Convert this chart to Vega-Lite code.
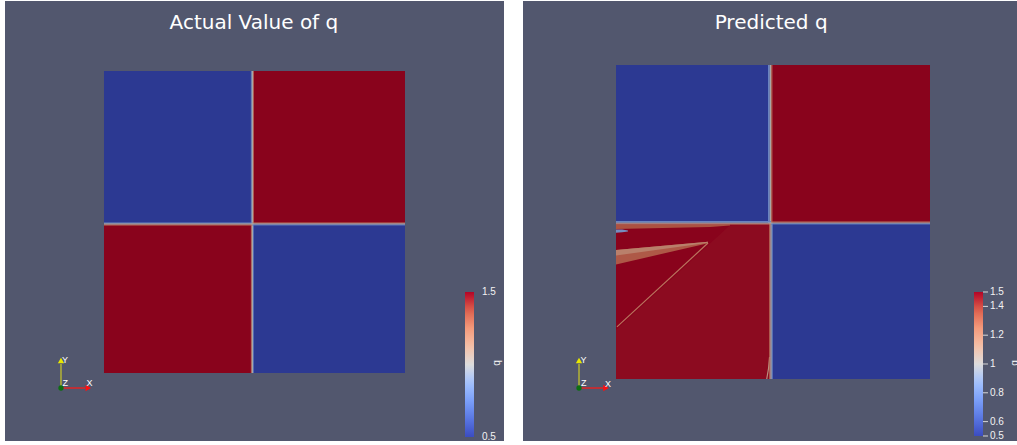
{
  "$schema": "https://vega.github.io/schema/vega-lite/v6.json",
  "padding": {"left": 5, "top": 1, "right": 0, "bottom": 4},
  "background": "white",
  "spacing": 19,
  "config": {"view": {"stroke": null, "fill": "#52576e"}},
  "resolve": {"scale": {"color": "independent", "x": "independent", "y": "independent"}, "legend": {"color": "independent"}},
  "hconcat": [
    {
      "width": 499,
      "height": 440,
      "encoding": {
        "x": {"field": "x", "type": "quantitative", "scale": {"domain": [-0.3289, 1.3289], "nice": false, "zero": false}, "axis": null},
        "y": {"field": "y", "type": "quantitative", "scale": {"domain": [-0.22517, 1.23179], "nice": false, "zero": false}, "axis": null, "stack": null}
      },
      "layer": [
        {
          "data": {"values": [
            {"x": 0, "x2": 0.493, "y": 0.493, "y2": 1, "q": 0.5},
            {"x": 0.493, "x2": 1, "y": 0.493, "y2": 1, "q": 1.5},
            {"x": 0, "x2": 0.493, "y": 0, "y2": 0.493, "q": 1.5},
            {"x": 0.493, "x2": 1, "y": 0, "y2": 0.493, "q": 0.5},
            {"x": 0.488, "x2": 0.4905, "y": 0.493, "y2": 1, "q": 0.8},
            {"x": 0.4905, "x2": 0.4955, "y": 0.493, "y2": 1, "q": 1.0},
            {"x": 0.4955, "x2": 0.498, "y": 0.493, "y2": 1, "q": 1.25},
            {"x": 0.488, "x2": 0.4905, "y": 0, "y2": 0.493, "q": 1.25},
            {"x": 0.4905, "x2": 0.4955, "y": 0, "y2": 0.493, "q": 1.0},
            {"x": 0.4955, "x2": 0.498, "y": 0, "y2": 0.493, "q": 0.75},
            {"x": 0, "x2": 0.493, "y": 0.4955, "y2": 0.498, "q": 0.8},
            {"x": 0, "x2": 0.493, "y": 0.4905, "y2": 0.4955, "q": 1.0},
            {"x": 0, "x2": 0.493, "y": 0.488, "y2": 0.4905, "q": 1.25},
            {"x": 0.493, "x2": 1, "y": 0.4955, "y2": 0.498, "q": 1.25},
            {"x": 0.493, "x2": 1, "y": 0.4905, "y2": 0.4955, "q": 1.0},
            {"x": 0.493, "x2": 1, "y": 0.488, "y2": 0.4905, "q": 0.75}
          ]},
          "mark": {"type": "rect"},
          "encoding": {
            "x2": {"field": "x2"},
            "y2": {"field": "y2"},
            "color": {
              "field": "q", "type": "quantitative",
              "scale": {"domain": [0.5, 0.625, 0.75, 0.875, 1, 1.125, 1.25, 1.375, 1.5], "range": ["#3b4cc0", "#5977e3", "#7b9ff9", "#a3c2fe", "#dddcdc", "#f5c0a7", "#f49a7b", "#dd604d", "#b40426"], "interpolate": "rgb"},
              "legend": {"type": "gradient", "orient": "none", "legendX": 460, "legendY": 291, "direction": "vertical", "gradientLength": 145, "gradientThickness": 9, "gradientStrokeWidth": 0, "title": null, "values": [1.4999, 0.5001], "format": ".2~f", "labelColor": "#f2f2f2", "labelFont": "Liberation Sans", "labelFontSize": 10, "labelOffset": 8, "labelOverlap": false, "padding": 0}
            }
          }
        },
        {
          "data": {"values": [{"x": 0, "x2": 1, "y": 0, "y2": 1}]},
          "mark": {"type": "rect", "fill": "black", "opacity": 0.24},
          "encoding": {"x2": {"field": "x2"}, "y2": {"field": "y2"}}
        },
        {
          "data": {"values": [{"x": -0.1429, "y": -0.0497, "x2": -0.1429, "y2": 0.0298}]},
          "mark": {"type": "rule", "color": "#b4b434", "strokeWidth": 1.5},
          "encoding": {"x2": {"field": "x2"}, "y2": {"field": "y2"}}
        },
        {
          "data": {"values": [{"x": -0.1429, "y": -0.0497, "x2": -0.0631, "y2": -0.0497}]},
          "mark": {"type": "rule", "color": "#e02424", "strokeWidth": 1.5},
          "encoding": {"x2": {"field": "x2"}, "y2": {"field": "y2"}}
        },
        {
          "data": {"values": [{"x": -0.1429, "y": 0.0414}]},
          "mark": {"type": "point", "shape": "triangle-up", "filled": true, "color": "#e8e800", "size": 40, "opacity": 1}
        },
        {
          "data": {"values": [{"x": -0.0522, "y": -0.0497}]},
          "mark": {"type": "point", "shape": "triangle-right", "filled": true, "color": "#ff1010", "size": 40, "opacity": 1}
        },
        {
          "data": {"values": [{"x": -0.1429, "y": -0.0497}]},
          "mark": {"type": "point", "shape": "circle", "filled": true, "color": "#0d6e12", "size": 28, "opacity": 1}
        },
        {
          "data": {"values": [
            {"label": "Y", "x": -0.1395, "y": 0.0331},
            {"label": "Z", "x": -0.1379, "y": -0.043},
            {"label": "X", "x": -0.0581, "y": -0.0447}
          ]},
          "mark": {"type": "text", "align": "left", "baseline": "alphabetic", "font": "Liberation Sans", "fontSize": 9, "color": "#ffffff"},
          "encoding": {"text": {"field": "label"}}
        },
        {
          "data": {"values": [{"label": "Actual Value of q", "x": 0.498, "y": 1.1407}]},
          "mark": {"type": "text", "align": "center", "baseline": "alphabetic", "font": "DejaVu Sans", "fontSize": 20, "color": "#ffffff"},
          "encoding": {"text": {"field": "label"}}
        },
        {
          "data": {"values": [{"label": "q", "x": 1.304, "y": 0.033}]},
          "mark": {"type": "text", "align": "center", "baseline": "middle", "angle": 270, "font": "Liberation Sans", "fontSize": 10, "color": "#f2f2f2"},
          "encoding": {"text": {"field": "label"}}
        }
      ]
    },
    {
      "width": 494,
      "height": 440,
      "encoding": {
        "x": {"field": "x", "type": "quantitative", "scale": {"domain": [-0.29618, 1.27707], "nice": false, "zero": false}, "axis": null},
        "y": {"field": "y", "type": "quantitative", "scale": {"domain": [-0.19745, 1.20382], "nice": false, "zero": false}, "axis": null, "stack": null}
      },
      "layer": [
        {
          "data": {"values": [
            {"x": 0, "x2": 0.4935, "y": 0.4965, "y2": 1, "q": 0.5},
            {"x": 0.4935, "x2": 1, "y": 0.4965, "y2": 1, "q": 1.5},
            {"x": 0, "x2": 0.4935, "y": 0, "y2": 0.4965, "q": 1.5},
            {"x": 0.4935, "x2": 1, "y": 0, "y2": 0.4965, "q": 0.5}
          ]},
          "mark": {"type": "rect"},
          "encoding": {
            "x2": {"field": "x2"},
            "y2": {"field": "y2"},
            "color": {
              "field": "q", "type": "quantitative",
              "scale": {"domain": [0.5, 0.625, 0.75, 0.875, 1, 1.125, 1.25, 1.375, 1.5], "range": ["#3b4cc0", "#5977e3", "#7b9ff9", "#a3c2fe", "#dddcdc", "#f5c0a7", "#f49a7b", "#dd604d", "#b40426"], "interpolate": "rgb"},
              "legend": {"type": "gradient", "orient": "none", "legendX": 451, "legendY": 291, "direction": "vertical", "gradientLength": 144, "gradientThickness": 9, "gradientStrokeWidth": 0, "title": null, "values": [1.4999, 1.4, 1.2, 1, 0.8, 0.6, 0.5001], "format": ".2~f", "labelColor": "#f2f2f2", "labelFont": "Liberation Sans", "labelFontSize": 10, "labelOffset": 7, "labelOverlap": false, "padding": 0}
            }
          }
        },
        {
          "data": {"values": [
            {"id": "1A", "x": 0, "y": 0, "y2": 0.156, "q": 1.485},
            {"id": "1A", "x": 0.363, "y": 0, "y2": 0.49, "q": 1.485},
            {"id": "1A", "x": 0.488, "y": 0, "y2": 0.492, "q": 1.485},
            {"id": "2B", "x": 0, "y": 0.478, "y2": 0.492, "q": 1.35},
            {"id": "2B", "x": 0.3, "y": 0.484, "y2": 0.492, "q": 1.35},
            {"id": "2B", "x": 0.363, "y": 0.489, "y2": 0.492, "q": 1.35},
            {"id": "3C", "x": 0, "y": 0.466, "y2": 0.476, "q": 0.85},
            {"id": "3C", "x": 0.02, "y": 0.467, "y2": 0.476, "q": 0.85},
            {"id": "3C", "x": 0.038, "y": 0.47, "y2": 0.473, "q": 0.85},
            {"id": "4D", "x": 0, "y": 0.365, "y2": 0.411, "q": 1.33},
            {"id": "4D", "x": 0.293, "y": 0.432, "y2": 0.437, "q": 1.33},
            {"id": "5E", "x": 0, "y": 0.393, "y2": 0.411, "q": 1.2},
            {"id": "5E", "x": 0.15, "y": 0.414, "y2": 0.424, "q": 1.2},
            {"id": "5E", "x": 0.293, "y": 0.434, "y2": 0.437, "q": 1.2}
          ]},
          "mark": {"type": "area"},
          "encoding": {
            "y2": {"field": "y2"},
            "detail": {"field": "id", "type": "nominal"},
            "color": {"field": "q", "type": "quantitative", "scale": {"domain": [0.5, 0.625, 0.75, 0.875, 1, 1.125, 1.25, 1.375, 1.5], "range": ["#3b4cc0", "#5977e3", "#7b9ff9", "#a3c2fe", "#dddcdc", "#f5c0a7", "#f49a7b", "#dd604d", "#b40426"], "interpolate": "rgb"}}
          }
        },
        {
          "data": {"values": [
            {"id": "F", "x": 0.003, "y": 0.166},
            {"id": "F", "x": 0.293, "y": 0.433},
            {"id": "G", "x": 0.48, "y": 0.0},
            {"id": "G", "x": 0.486, "y": 0.035},
            {"id": "G", "x": 0.489, "y": 0.07}
          ]},
          "mark": {"type": "line", "strokeWidth": 1.2},
          "encoding": {
            "stroke": {"field": "id", "type": "nominal", "scale": {"domain": ["F", "G"], "range": ["#f49a7b", "#f5c0a7"]}, "legend": null}
          }
        },
        {
          "data": {"values": [
            {"x": 0.484, "x2": 0.4893, "y": 0.4965, "y2": 1, "q": 0.8},
            {"x": 0.4893, "x2": 0.4948, "y": 0.4965, "y2": 1, "q": 1.0},
            {"x": 0.4948, "x2": 0.498, "y": 0.4965, "y2": 1, "q": 1.25},
            {"x": 0.488, "x2": 0.4913, "y": 0, "y2": 0.4965, "q": 1.25},
            {"x": 0.4913, "x2": 0.4963, "y": 0, "y2": 0.4965, "q": 1.0},
            {"x": 0.4963, "x2": 0.4995, "y": 0, "y2": 0.4965, "q": 0.75},
            {"x": 0, "x2": 0.4935, "y": 0.4985, "y2": 0.5032, "q": 0.8},
            {"x": 0, "x2": 0.4935, "y": 0.4945, "y2": 0.4985, "q": 1.0},
            {"x": 0, "x2": 0.4935, "y": 0.492, "y2": 0.4945, "q": 1.2},
            {"x": 0.4935, "x2": 1, "y": 0.4985, "y2": 0.5015, "q": 1.25},
            {"x": 0.4935, "x2": 1, "y": 0.4945, "y2": 0.4985, "q": 1.0},
            {"x": 0.4935, "x2": 1, "y": 0.492, "y2": 0.4945, "q": 0.75}
          ]},
          "mark": {"type": "rect"},
          "encoding": {
            "x2": {"field": "x2"},
            "y2": {"field": "y2"},
            "color": {"field": "q", "type": "quantitative", "scale": {"domain": [0.5, 0.625, 0.75, 0.875, 1, 1.125, 1.25, 1.375, 1.5], "range": ["#3b4cc0", "#5977e3", "#7b9ff9", "#a3c2fe", "#dddcdc", "#f5c0a7", "#f49a7b", "#dd604d", "#b40426"], "interpolate": "rgb"}}
          }
        },
        {
          "data": {"values": [{"x": 0, "x2": 1, "y": 0, "y2": 1}]},
          "mark": {"type": "rect", "fill": "black", "opacity": 0.24},
          "encoding": {"x2": {"field": "x2"}, "y2": {"field": "y2"}}
        },
        {
          "data": {"values": [
            {"x": 1.1688, "x2": 1.1847, "y": -0.1815},
            {"x": 1.1688, "x2": 1.1847, "y": -0.1357},
            {"x": 1.1688, "x2": 1.1847, "y": -0.0439},
            {"x": 1.1688, "x2": 1.1847, "y": 0.0478},
            {"x": 1.1688, "x2": 1.1847, "y": 0.1395},
            {"x": 1.1688, "x2": 1.1847, "y": 0.2312},
            {"x": 1.1688, "x2": 1.1847, "y": 0.2771}
          ]},
          "mark": {"type": "rule", "color": "#d8d8d8", "strokeWidth": 1},
          "encoding": {"x2": {"field": "x2"}}
        },
        {
          "data": {"values": [{"x": -0.1178, "y": -0.0287, "x2": -0.1178, "y2": 0.0478}]},
          "mark": {"type": "rule", "color": "#b4b434", "strokeWidth": 1.5},
          "encoding": {"x2": {"field": "x2"}, "y2": {"field": "y2"}}
        },
        {
          "data": {"values": [{"x": -0.1178, "y": -0.0287, "x2": -0.0414, "y2": -0.0287}]},
          "mark": {"type": "rule", "color": "#e02424", "strokeWidth": 1.5},
          "encoding": {"x2": {"field": "x2"}, "y2": {"field": "y2"}}
        },
        {
          "data": {"values": [{"x": -0.1178, "y": 0.0589}]},
          "mark": {"type": "point", "shape": "triangle-up", "filled": true, "color": "#e8e800", "size": 40, "opacity": 1}
        },
        {
          "data": {"values": [{"x": -0.0318, "y": -0.0287}]},
          "mark": {"type": "point", "shape": "triangle-right", "filled": true, "color": "#ff1010", "size": 40, "opacity": 1}
        },
        {
          "data": {"values": [{"x": -0.1178, "y": -0.0287}]},
          "mark": {"type": "point", "shape": "circle", "filled": true, "color": "#0d6e12", "size": 28, "opacity": 1}
        },
        {
          "data": {"values": [
            {"label": "Y", "x": -0.1131, "y": 0.0494},
            {"label": "Z", "x": -0.1115, "y": -0.0223},
            {"label": "X", "x": -0.035, "y": -0.0239}
          ]},
          "mark": {"type": "text", "align": "left", "baseline": "alphabetic", "font": "Liberation Sans", "fontSize": 9, "color": "#ffffff"},
          "encoding": {"text": {"field": "label"}}
        },
        {
          "data": {"values": [{"label": "Predicted q", "x": 0.494, "y": 1.1162}]},
          "mark": {"type": "text", "align": "center", "baseline": "alphabetic", "font": "DejaVu Sans", "fontSize": 20, "color": "#ffffff"},
          "encoding": {"text": {"field": "label"}}
        },
        {
          "data": {"values": [{"label": "q", "x": 1.2707, "y": 0.051}]},
          "mark": {"type": "text", "align": "center", "baseline": "middle", "angle": 270, "font": "Liberation Sans", "fontSize": 10, "color": "#f2f2f2"},
          "encoding": {"text": {"field": "label"}}
        }
      ]
    }
  ]
}
